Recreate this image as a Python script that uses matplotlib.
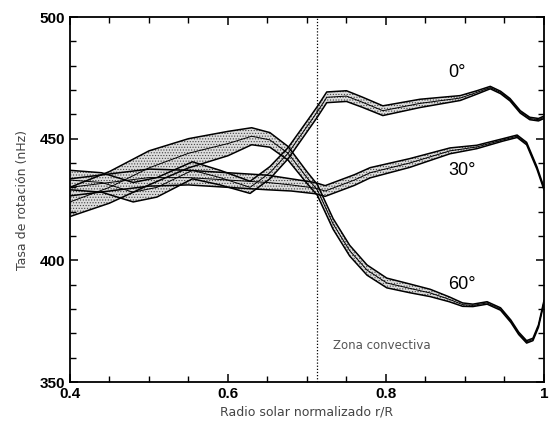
"""Solar internal rotation rate vs normalized radius at three latitudes."""
import matplotlib
matplotlib.use("Agg")
import matplotlib.pyplot as plt
from matplotlib.ticker import MultipleLocator, FixedLocator

plt.rcParams["hatch.linewidth"] = 0.5

# radius, centre value (nHz) and half-width of the uncertainty band
r_eq = [0.40, 0.44, 0.48, 0.51, 0.555, 0.59, 0.628, 0.653, 0.676, 0.70, 0.713,
        0.725, 0.75, 0.77, 0.796, 0.843, 0.894, 0.915, 0.932, 0.945, 0.957,
        0.97, 0.982, 0.993, 1.00]
f_eq = [433, 432, 428, 430, 437, 434, 430, 436, 444, 455, 461,
        467, 467.5, 465, 461.5, 464.5, 466.7, 469, 471, 469, 466,
        461, 458.3, 457.8, 458.8]
w_eq = [4, 4, 4, 4, 3.5, 3, 2.5, 2.5, 2.3, 2.2, 2.2,
        2.2, 2.2, 2.1, 2, 1.7, 1.0, 0.7, 0.5, 0.5, 0.5,
        0.5, 0.5, 0.5, 0.5]

r_30 = [0.40, 0.45, 0.50, 0.55, 0.60, 0.65, 0.68, 0.71, 0.723, 0.76, 0.78,
        0.83, 0.881, 0.915, 0.948, 0.966, 0.978, 0.991, 1.00]
f_30 = [430, 432, 434, 434, 433, 432, 431, 429.7, 428.5, 433, 436,
        440, 445, 446.6, 449.5, 451, 448, 438, 429.5]
w_30 = [3.5, 3.5, 3.5, 3, 3, 3, 2.5, 2.3, 2.2, 2.2, 2.1,
        1.8, 1.2, 0.7, 0.5, 0.5, 0.5, 0.5, 0.5]

r_60 = [0.40, 0.45, 0.50, 0.55, 0.60, 0.63, 0.653, 0.676, 0.70, 0.713, 0.733,
        0.754, 0.776, 0.801, 0.83, 0.856, 0.88, 0.897, 0.91, 0.928, 0.945,
        0.958, 0.968, 0.978, 0.986, 0.993, 1.00]
f_60 = [424, 430, 438, 444, 448, 451, 449.5, 444, 434, 429, 415,
        404, 396, 390.7, 388.5, 386.6, 384, 381.8, 381.5, 382.5, 380,
        375, 370, 366.5, 367.5, 373, 383]
w_60 = [6, 6.5, 7, 6, 5, 3.5, 3, 2.8, 2.4, 2.2, 2.2,
        2.2, 2.1, 2, 1.8, 1.5, 1.0, 0.7, 0.5, 0.5, 0.5,
        0.5, 0.5, 0.5, 0.5, 0.5, 0.5]

bands = [(r_eq, f_eq, w_eq), (r_30, f_30, w_30), (r_60, f_60, w_60)]
labels = ["0°", "30°", "60°"]
label_pos = [(0.890, 477), (0.896, 437), (0.896, 390)]

r_base_cz = 0.713

fig = plt.figure(figsize=(5.52, 4.21), dpi=100)
ax = fig.add_axes([0.1268, 0.0926, 0.8587, 0.867])

for r, f, w in bands:
    lo = [c - d for c, d in zip(f, w)]
    hi = [c + d for c, d in zip(f, w)]
    ax.fill_between(r, lo, hi, facecolor="#dcdcdc", edgecolor="#444444",
                    hatch="......", linewidth=0)
    ax.plot(r, lo, color="black", lw=1.1)
    ax.plot(r, hi, color="black", lw=1.1)
    ax.plot(r, f, color="black", lw=0.7)

for text, (x, y) in zip(labels, label_pos):
    ax.text(x, y, text, fontsize=13, family="Liberation Sans",
            ha="center", va="center")

ax.axvline(r_base_cz, color="black", lw=0.9, ls=(0, (1, 1.5)))
ax.text(0.733, 365, "Zona convectiva", fontsize=8.5, color="#555555",
        ha="left", va="center")

ax.set_xlim(0.4, 1.0)
ax.set_ylim(350, 500)
ax.xaxis.set_major_locator(FixedLocator([0.4, 0.6, 0.8, 1.0]))
ax.xaxis.set_minor_locator(MultipleLocator(0.05))
ax.yaxis.set_major_locator(MultipleLocator(50))
ax.yaxis.set_minor_locator(MultipleLocator(10))
ax.set_xticklabels(["0.4", "0.6", "0.8", "1"])
ax.tick_params(which="both", direction="in", top=True, right=True)
ax.tick_params(which="major", length=6, width=1.1)
ax.tick_params(which="minor", length=4, width=1.0)
for lab in ax.get_xticklabels() + ax.get_yticklabels():
    lab.set_fontfamily("Liberation Sans")
    lab.set_fontweight("bold")
    lab.set_fontsize(11)
for sp in ax.spines.values():
    sp.set_linewidth(1.3)

ax.set_xlabel("Radio solar normalizado r/R", fontsize=9, color="#444444",
              labelpad=3)
ax.set_ylabel("Tasa de rotación (nHz)", fontsize=9, color="#444444",
              labelpad=8)

fig.savefig("out.png", dpi=100)
